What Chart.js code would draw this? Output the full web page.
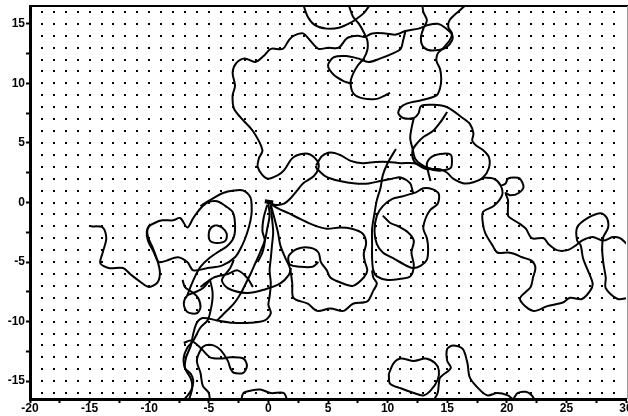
<!DOCTYPE html>
<html>
<head>
<meta charset="utf-8">
<script src="https://cdn.jsdelivr.net/npm/chart.js@4.4.1/dist/chart.umd.min.js"></script>
<style>
  html, body { margin: 0; padding: 0; background: #fff; }
</style>
</head>
<body>
<canvas id="walks" width="628" height="416"></canvas>
<script>
// axis ranges and tick marks
const xRange = [-20, 30];
const yRange = [-16.5, 16.5];
const xTicks = [-20, -17.5, -15, -12.5, -10, -7.5, -5, -2.5, 0, 2.5, 5, 7.5, 10, 12.5, 15, 17.5, 20, 22.5, 25, 27.5, 30];
const yTicks = [-15, -12.5, -10, -7.5, -5, -2.5, 0, 2.5, 5, 7.5, 10, 12.5, 15];

// traced walk segments, [x, y] in data units
const walkA = [[0,0],[0.6,-0.2],[1.3,-0.1],[1.9,0.4],[2.4,1.0],[2.9,1.6],[3.8,2.2],[4.2,2.9],[4.1,3.5],[3.3,4.1],[2.1,3.8],[1.3,2.7],[0.8,2.3],[0,2.0],[-0.5,2.3],[-0.9,3.0],[-0.8,3.7],[-0.5,4.4],[-1.3,6.0],[-2.3,7.1],[-2.9,7.9],[-3.0,9.0],[-2.8,9.8],[-3.0,10.9],[-2.7,11.7],[-2.0,12.1],[-1.1,11.8],[-0.4,12.3],[0.2,12.9],[1.2,12.9],[1.7,13.6],[2.1,14.0],[2.9,14.2],[3.5,13.6],[4.2,12.9],[5.0,13.0],[5.9,13.0],[6.6,13.8],[7.5,14.0],[8.1,13.9],[8.7,14.2],[9.8,14.2],[10.7,14.1],[11.5,14.4],[12.6,14.6],[13.4,14.9],[14.2,15.0],[14.8,14.7],[15.4,14.1],[15.4,13.6],[14.9,13.0],[14.3,12.8],[13.4,12.8],[12.9,13.2],[12.8,13.9],[13.0,14.6],[13.3,15.3],[13.0,16.0],[12.9,16.7]];
const walkB = [[2.9,16.7],[3.3,15.6],[3.9,14.9],[4.9,14.6],[6.0,14.7],[6.9,15.1],[7.5,15.5],[8.0,15.9],[8.6,16.7]];
const walkC = [[6.7,16.7],[7.1,15.6],[7.6,15.0],[8.0,14.3],[8.3,13.6],[8.3,12.8],[8.0,12.1],[7.5,11.5],[7.1,10.8],[6.9,10.1],[7.1,9.2],[7.7,8.8],[8.3,8.7],[9.1,8.7],[9.8,9.0],[10.2,9.2]];
const walkD = [[11.5,14.4],[11.3,13.6],[11.1,12.9],[10.4,12.5],[9.4,12.1],[8.4,11.8],[7.5,12.1],[6.5,12.3],[5.5,12.2],[5.0,11.5],[5.5,10.7],[6.3,10.2],[6.9,10.0]];
const walkE = [[16.7,16.7],[15.9,16.0],[15.2,15.3],[15.1,14.7],[15.4,14.2],[15.2,13.6],[14.6,12.9],[14.2,12.5],[14.1,11.9],[14.4,11.2],[14.5,10.4],[14.4,9.6],[14.1,9.0],[12.9,8.6],[11.6,8.3],[11.1,8.0],[10.9,7.5],[11.3,7.1],[12.2,7.1],[12.6,7.5],[12.8,8.1],[13.8,8.2],[15.0,8.0],[16.3,7.1],[16.9,6.6],[17.2,5.8],[17.1,5.2],[17.4,4.8],[18.0,4.4],[18.5,3.8],[18.5,2.9],[18.0,2.1],[17.2,1.7],[16.4,1.6],[15.5,2.0],[15.0,2.5],[14.4,2.8],[13.3,2.8],[12.8,3.0],[12.2,3.5],[12.1,4.4],[12.5,5.0],[13.0,5.5],[13.8,6.0],[14.4,6.7],[15.0,7.6]];
const walkG = [[12.2,7.1],[12.0,6.2],[11.9,5.4],[12.1,4.5],[12.3,3.7],[12.8,3.2],[13.4,2.9],[14.4,2.7]];
const walkI = [[4.0,3.1],[4.5,3.9],[5.2,4.2],[6.0,4.0],[6.9,3.5],[7.9,3.3],[9.0,3.4],[10.1,3.4],[11.1,3.3],[12.2,3.3],[13.3,2.9],[14.0,2.7],[14.7,2.7],[15.3,2.9],[15.4,3.5],[15.3,4.0],[14.7,4.1],[13.8,3.9],[13.3,3.3],[13.4,2.6],[13.6,1.8]];
const walkJ = [[4.0,2.9],[4.8,2.2],[6.0,1.8],[7.3,1.6],[8.4,1.6],[9.4,1.8],[10.4,2.0],[11.1,2.1],[11.9,1.6],[12.2,0.8],[13.0,1.2],[13.8,1.1],[14.3,0.7],[14.2,-0.1],[13.6,-0.6],[13.2,-1.3],[13.0,-2.2],[13.3,-3.0],[13.4,-3.9],[13.3,-4.8],[12.8,-5.3],[12.1,-5.5],[11.2,-5.1],[10.5,-4.7],[9.6,-4.2],[9.1,-3.5],[8.9,-2.4],[9.1,-1.1],[9.6,-0.3],[10.4,0.3],[11.2,0.5],[12.2,0.8]];
const walkK = [[10.7,4.5],[10.0,3.3],[9.6,2.3],[9.4,1.2],[9.1,0.2],[8.9,-0.9],[8.7,-2.2],[8.7,-3.4],[8.7,-4.7],[8.8,-5.7],[9.1,-6.2],[10.0,-6.5],[11.1,-6.4],[11.9,-6.2],[12.2,-5.3],[12.0,-4.2],[12.2,-3.2],[11.7,-2.5],[10.9,-2.0],[10.2,-1.7],[9.6,-1.1]];
const walkN = [[0,0],[0.8,-0.5],[1.7,-0.9],[2.7,-1.4],[3.8,-1.9],[4.9,-2.2],[6.0,-2.1],[7.0,-2.2],[7.9,-2.6],[8.2,-3.4],[8.0,-4.3],[8.1,-5.0],[8.3,-5.7],[8.0,-6.3],[7.1,-7.0],[6.0,-6.7],[5.2,-6.3],[4.9,-5.7],[4.4,-5.0],[4.2,-4.2],[3.5,-3.8],[2.4,-3.9],[1.7,-4.5],[1.8,-5.2],[2.7,-5.4],[3.7,-5.4],[4.2,-5.0]];
const walkO = [[0.2,-0.2],[0.5,-1.3],[0.8,-2.5],[1.0,-3.6],[1.4,-4.6],[1.8,-5.5],[2.0,-6.8],[2.1,-8.0],[3.3,-8.5],[4.1,-9.1],[5.2,-8.9],[6.3,-9.1],[7.1,-8.5],[8.3,-8.3],[8.8,-7.4],[9.1,-6.8],[8.8,-6.3],[8.7,-5.7]];
const walkP1 = [[0,-0.1],[0.1,-1.1],[-0.1,-2.2],[-0.3,-3.2],[-0.7,-4.2],[-1.1,-5.1],[-1.5,-6.0],[-1.9,-6.8],[-2.3,-7.6],[-2.9,-8.5],[-3.6,-9.2],[-4.3,-9.9]];
const walkP2 = [[0.2,-0.2],[0.3,-1.3],[0.4,-2.5],[0.3,-3.6],[0.2,-4.7],[0.1,-5.7],[0.2,-6.8],[0.1,-7.9],[0,-8.6],[0.2,-9.3],[-0.3,-9.9],[-1.5,-10.1],[-3.0,-10.1],[-4.3,-9.9],[-5.5,-9.7],[-6.0,-10.1],[-6.3,-11.0],[-6.5,-12.0],[-6.9,-13.0],[-7.0,-13.9],[-6.5,-14.8],[-6.4,-15.6],[-6.7,-16.7]];
const walkP3 = [[-0.1,-0.2],[-0.4,-1.3],[-0.5,-2.4],[-0.3,-3.2],[-0.5,-4.2],[-0.9,-5.0]];
const walkQ = [[-2.9,-4.8],[-3.2,-5.5],[-3.9,-6.5],[-3.4,-7.2],[-1.8,-7.6],[-0.3,-7.3],[1.0,-6.8],[1.7,-6.1],[1.9,-5.5]];
const walkR = [[-5.7,-0.3],[-4.9,0.2],[-3.8,0.8],[-2.9,1.0],[-2.1,1.0],[-1.5,0.4],[-1.4,-0.7],[-1.5,-1.5],[-1.8,-2.6],[-2.2,-3.6],[-2.8,-4.6],[-3.9,-5.3],[-5.1,-5.5],[-6.3,-5.7],[-6.8,-5.0],[-7.6,-4.6],[-8.6,-4.9],[-9.2,-5.0],[-9.6,-4.2],[-10.1,-3.2],[-10.2,-2.4],[-9.9,-1.8]];
const walkL = [[-14.9,-2.0],[-13.9,-2.1],[-13.6,-3.0],[-13.9,-4.2],[-14.1,-5.1],[-13.4,-5.5],[-12.2,-5.5],[-11.6,-6.0],[-10.7,-6.7],[-10.0,-7.1],[-9.3,-6.7],[-9.1,-5.9],[-9.3,-4.9],[-9.7,-3.8],[-10.1,-2.9],[-10.1,-2.1],[-9.5,-1.7],[-8.9,-1.5],[-8.0,-1.5],[-7.4,-1.3],[-6.8,-2.1],[-6.3,-1.3],[-5.7,-0.5],[-5.1,0],[-4.3,0.1],[-3.6,-0.3],[-3.0,-0.8],[-2.8,-1.8],[-2.9,-2.9],[-3.5,-3.7],[-4.3,-4.2],[-5.0,-4.7],[-5.7,-5.4],[-6.1,-6.1],[-6.5,-7.0],[-6.8,-7.8]];
const walkSL = [[-4.4,-1.9],[-3.9,-2.1],[-3.5,-2.6],[-3.6,-3.2],[-4.3,-3.4],[-4.9,-3.2],[-5.0,-2.6],[-4.8,-2.1],[-4.4,-1.9]];
const walkLL = [[-7.2,-6.5],[-7.0,-7.1],[-6.3,-7.6],[-5.9,-8.0],[-5.7,-8.8],[-6.0,-9.3],[-6.8,-9.2],[-7.1,-8.5],[-6.8,-7.8],[-6.3,-7.6],[-5.5,-7.2],[-4.9,-6.5]];
const walkV1 = [[-4.9,-6.5],[-4.7,-7.4],[-4.7,-8.2],[-4.9,-9.3],[-5.1,-9.9],[-5.7,-10.5],[-6.3,-11.6],[-6.8,-12.2],[-7.1,-13.0],[-7.0,-13.9],[-6.5,-14.4],[-6.3,-15.0],[-6.5,-15.8],[-7.2,-16.7]];
const walkV3 = [[-7.1,-11.8],[-6.5,-11.6],[-5.7,-12.2],[-4.9,-13.0],[-4.0,-13.1],[-3.2,-13.0],[-2.1,-13.1],[-1.8,-13.7],[-2.1,-14.3],[-2.9,-14.3],[-3.2,-13.9],[-3.4,-13.3],[-4.0,-12.4],[-4.6,-12.0],[-5.3,-12.0],[-5.7,-12.4],[-6.0,-13.3],[-5.7,-14.3],[-5.5,-15.4],[-5.0,-16.0],[-4.9,-16.7]];
const walkX = [[-5.7,-7.1],[-4.6,-6.3],[-3.4,-6.0],[-2.6,-5.7],[-1.8,-6.3],[-1.3,-7.1]];
const walkBB = [[-2.3,-16.7],[-2.1,-16.0],[-1.5,-15.8],[-0.7,-15.7],[0.2,-16.0],[1.3,-16.0],[1.6,-16.7]];
const walkU = [[10.1,-14.4],[10.5,-13.5],[11.1,-13.1],[12.2,-13.3],[13.2,-13.1],[14.0,-13.5],[14.3,-14.1],[14.2,-14.9],[13.6,-15.8],[13.0,-16.2],[12.2,-16.0],[11.1,-15.6],[10.2,-15.2],[10.1,-14.4]];
const walkV = [[13.8,-16.7],[14.2,-16.0],[14.3,-15.2],[14.4,-14.7],[15.3,-13.9],[15.0,-13.3],[15.0,-12.3],[15.5,-12.0],[16.3,-12.3],[16.7,-13.5],[16.9,-14.7],[17.8,-15.8],[18.4,-16.2],[19.2,-16.0],[20.1,-16.2],[20.5,-16.5],[20.9,-16.0],[21.6,-15.9],[22.1,-16.2],[22.4,-16.7]];
const walkS = [[18.0,2.1],[18.9,2.0],[19.5,1.4],[19.6,0.6],[18.9,-0.3],[18.0,-0.8],[18.0,-1.8],[18.2,-2.6],[18.8,-3.6],[19.2,-4.2],[20.1,-4.2],[20.6,-4.3],[21.3,-4.6],[22.1,-4.9],[22.4,-5.5],[22.2,-6.3],[22.0,-7.1],[21.1,-8.1],[22.2,-9.1],[23.4,-8.7],[24.7,-8.4],[25.3,-8.0],[26.3,-8.1],[27.0,-7.4],[27.2,-6.8],[26.8,-5.7],[26.4,-4.7],[26.2,-3.6],[25.9,-3.2],[25.9,-2.1],[26.8,-1.3],[27.9,-0.9],[28.4,-1.3],[28.5,-2.1],[28.1,-2.9],[28.0,-3.8],[28.1,-5.1],[28.3,-6.3],[28.3,-7.2],[29.3,-8.1],[30.2,-8.0]];
const walkT = [[19.5,1.4],[19.9,1.6],[20.1,2.0],[20.6,2.1],[21.1,2.0],[21.4,1.3],[21.0,0.8],[20.3,0.6],[19.9,0.8],[20.1,0.2],[20.1,-1.1],[20.3,-1.3],[21.1,-1.8],[21.6,-2.2],[22.1,-3.0],[23.1,-3.0],[23.5,-3.5],[24.2,-4.0],[25.1,-4.0],[25.8,-3.6],[26.3,-3.2],[27.2,-2.9],[28.1,-3.2],[28.9,-2.9],[29.5,-3.0],[30.2,-3.6]];
const walkStart = [[-0.3,0.1],[0.4,0]];

const walks = [walkA, walkB, walkC, walkD, walkE, walkG, walkI, walkJ, walkK, walkN, walkO,
  walkP1, walkP2, walkP3, walkQ, walkR, walkL, walkSL, walkLL, walkV1, walkV3, walkX,
  walkBB, walkU, walkV, walkS, walkT];

const labelFont = { family: "'Liberation Sans', Arial, sans-serif", size: 12, weight: "bold" };

// dot at every integer point inside the plot
const dotGrid = {
  id: "dotGrid",
  beforeDatasetsDraw(chart) {
    const { ctx, scales: { x, y } } = chart;
    ctx.save();
    ctx.fillStyle = "#000";
    for (let i = Math.ceil(x.min) + 1; i < x.max; i++) {
      for (let j = Math.ceil(y.min); j <= Math.floor(y.max); j++) {
        const px = Math.round(x.getPixelForValue(i));
        const py = Math.round(y.getPixelForValue(j));
        ctx.fillRect(px - 1, py - 1, 2, 2);
      }
    }
    ctx.restore();
  },
};

// top border and grey right edge
const frame = {
  id: "frame",
  afterDraw(chart) {
    const { ctx, chartArea: a } = chart;
    ctx.save();
    ctx.strokeStyle = "#000";
    ctx.lineWidth = 2;
    ctx.beginPath();
    ctx.moveTo(a.left, a.top);
    ctx.lineTo(chart.width, a.top);
    ctx.stroke();
    ctx.strokeStyle = "#999";
    ctx.lineWidth = 1;
    ctx.beginPath();
    ctx.moveTo(chart.width - 0.5, a.top);
    ctx.lineTo(chart.width - 0.5, a.bottom);
    ctx.stroke();
    ctx.restore();
  },
};

const ctx = document.getElementById("walks");

new Chart(ctx, {
  type: "scatter",
  data: {
    datasets: walks.map((w) => ({
      data: w.map(([x, y]) => ({ x, y })),
      showLine: true,
      borderColor: "#000",
      borderWidth: 2,
      pointRadius: 0,
      tension: 0.3,
      clip: 0,
    })).concat([{
      data: walkStart.map(([x, y]) => ({ x, y })),
      showLine: true,
      borderColor: "#000",
      borderWidth: 4,
      pointRadius: 0,
      clip: 0,
    }]),
  },
  options: {
    responsive: false,
    devicePixelRatio: 1,
    animation: false,
    layout: { padding: { top: 6, right: 2, left: 0, bottom: 0 } },
    plugins: { legend: { display: false }, tooltip: { enabled: false } },
    scales: {
      x: {
        type: "linear",
        min: xRange[0],
        max: xRange[1],
        afterBuildTicks: (s) => { s.ticks = xTicks.map((v) => ({ value: v })); },
        afterFit: (s) => { s.height = 17; s.paddingLeft = 0; s.paddingRight = 0; },
        ticks: {
          autoSkip: false,
          maxRotation: 0,
          padding: -2,
          color: "#000",
          font: labelFont,
          callback: (v) => (v % 5 === 0 ? String(v) : ""),
        },
        grid: { drawOnChartArea: false, tickLength: 4, tickWidth: 2, tickColor: "#000" },
        border: { color: "#000", width: 3 },
      },
      y: {
        type: "linear",
        min: yRange[0],
        max: yRange[1],
        afterBuildTicks: (s) => { s.ticks = yTicks.map((v) => ({ value: v })); },
        afterFit: (s) => { s.width = 30; s.paddingTop = 0; s.paddingBottom = 0; },
        ticks: {
          autoSkip: false,
          padding: 1,
          color: "#000",
          font: labelFont,
          callback: (v) => (v % 5 === 0 ? String(v) : ""),
        },
        grid: { drawOnChartArea: false, tickLength: 4, tickWidth: 2, tickColor: "#000" },
        border: { color: "#000", width: 3 },
      },
    },
  },
  plugins: [dotGrid, frame],
});
</script>
</body>
</html>
